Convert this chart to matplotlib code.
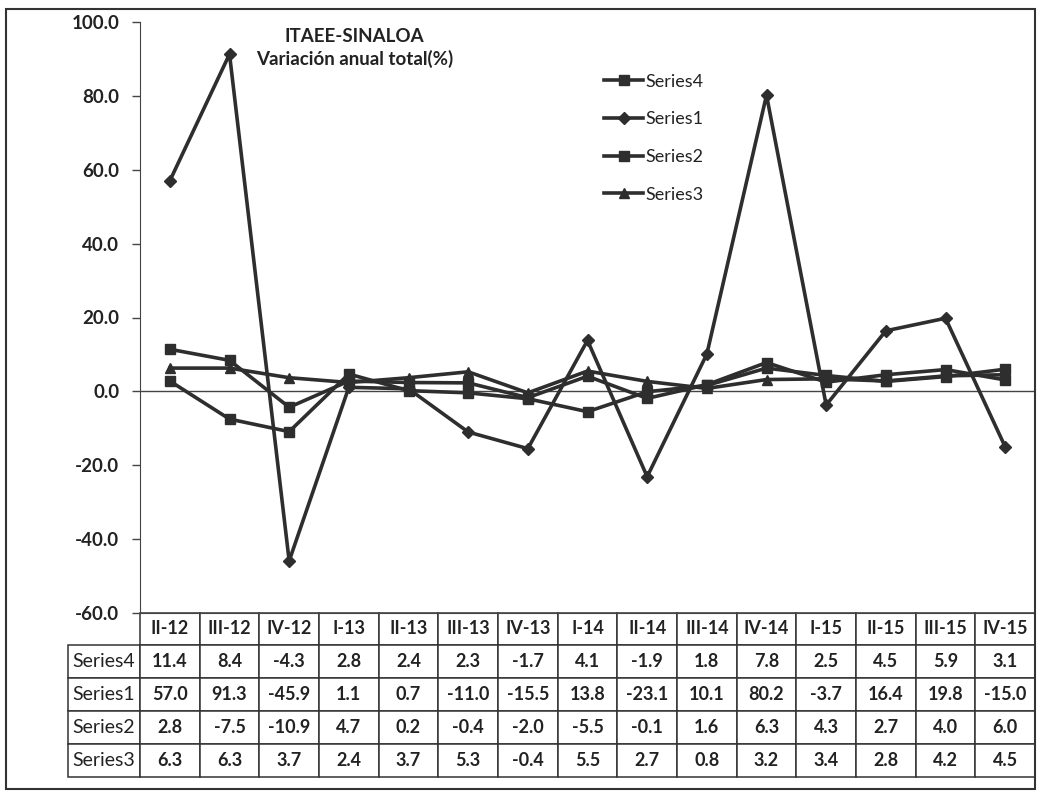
import matplotlib.pyplot as plt
from matplotlib.patches import Rectangle

plt.rcParams['font.family'] = ['Lato', 'DejaVu Sans']

quarters = ["II-12", "III-12", "IV-12", "I-13", "II-13", "III-13", "IV-13",
            "I-14", "II-14", "III-14", "IV-14", "I-15", "II-15", "III-15", "IV-15"]
series4 = [11.4, 8.4, -4.3, 2.8, 2.4, 2.3, -1.7, 4.1, -1.9, 1.8, 7.8, 2.5, 4.5, 5.9, 3.1]
series1 = [57.0, 91.3, -45.9, 1.1, 0.7, -11.0, -15.5, 13.8, -23.1, 10.1, 80.2, -3.7, 16.4, 19.8, -15.0]
series2 = [2.8, -7.5, -10.9, 4.7, 0.2, -0.4, -2.0, -5.5, -0.1, 1.6, 6.3, 4.3, 2.7, 4.0, 6.0]
series3 = [6.3, 6.3, 3.7, 2.4, 3.7, 5.3, -0.4, 5.5, 2.7, 0.8, 3.2, 3.4, 2.8, 4.2, 4.5]

series_names = ["Series4", "Series1", "Series2", "Series3"]
series_vals = [series4, series1, series2, series3]
markers = ["s", "D", "s", "^"]
yticks = [-60, -40, -20, 0, 20, 40, 60, 80, 100]

W, H = 1040, 792
fig = plt.figure(figsize=(W / 100, H / 100), dpi=100)
ax = fig.add_axes([140 / W, (H - 613) / H, 895 / W, 591 / H])

col = "#2e2e2e"
x = range(len(quarters))
for name, vals, m in zip(series_names, series_vals, markers):
    ms = 6 if m == "D" else 7
    ax.plot(x, vals, color=col, lw=2.6, marker=m, ms=ms, label=name)

ax.axhline(0, color="#444444", lw=1.0, zorder=0)
ax.set_xlim(-0.5, len(quarters) - 0.5)
ax.set_ylim(-60, 100)
ax.set_yticks(yticks)
ax.set_yticklabels([f"{v:.1f}" for v in yticks], fontsize=13.5, fontweight="bold", color="#222222")
ax.tick_params(axis="y", length=6, width=1, color="#444444", pad=9)
ax.set_xticks([])
for s in ["top", "right"]:
    ax.spines[s].set_visible(False)
ax.spines["left"].set_color("#444444")
ax.spines["bottom"].set_color("#444444")

ax.text(0.24, 0.99, "ITAEE-SINALOA\nVariación anual total(%)", transform=ax.transAxes,
        ha="center", va="top", fontsize=13.5, fontweight="bold", color="#222222", linespacing=1.3)

leg = ax.legend(loc="upper left", bbox_to_anchor=(0.5, 0.94), frameon=False,
                fontsize=13, labelspacing=1.2, handlelength=2.2, handletextpad=0.1)
for t in leg.get_texts():
    t.set_color("#222222")

# data table under the plot, first column holds the series names
lab_w = 72 / 895
cell_text = [[name] + [f"{v:.1f}" for v in vals] for name, vals in zip(series_names, series_vals)]
tbl = ax.table(cellText=cell_text, colLabels=[""] + quarters, cellLoc="center",
               bbox=[-lab_w, -164 / 591, 1 + lab_w, 164 / 591])
tbl.auto_set_font_size(False)
for (r, c), cell in tbl.get_celld().items():
    cell.set_edgecolor("#333333")
    cell.set_linewidth(1.1)
    txt = cell.get_text()
    txt.set_fontsize(13)
    txt.set_color("#222222")
    if c == 0:
        cell.set_width(lab_w)
        txt.set_fontsize(14)
        if r == 0:
            cell.visible_edges = ""
    else:
        cell.set_width(1 / 15)
        txt.set_fontweight("bold")
    cell.set_height(32 if r == 0 else 33)

# outer chart frame
fig.patches.append(Rectangle((6 / W, (H - 789) / H), (1035 - 6) / W, (789 - 9) / H,
                             transform=fig.transFigure, fill=False, ec="#333333", lw=1.5))

fig.savefig("out.png", dpi=100)
